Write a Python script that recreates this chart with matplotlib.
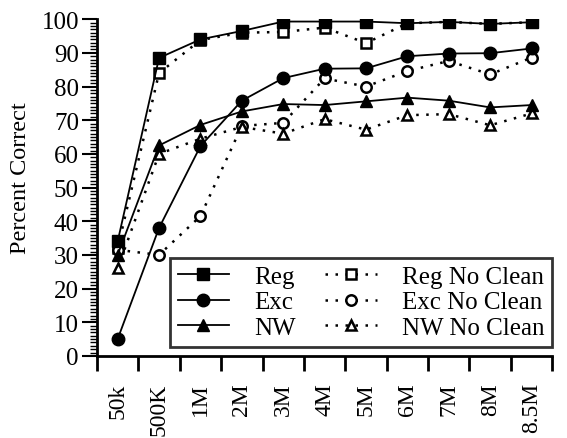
import matplotlib.pyplot as plt
import numpy as np
from matplotlib.ticker import MultipleLocator

plt.rcParams['font.family'] = ['Liberation Serif', 'DejaVu Serif']

sizes = ["50k", "500K", "1M", "2M", "3M", "4M", "5M", "6M", "7M", "8M", "8.5M"]

reg = [34, 88.5, 94, 96.5, 99.3, 99.3, 99.3, 98.8, 99.2, 98.6, 99.1]
exc = [5, 38, 62.3, 75.8, 82.5, 85.3, 85.4, 89, 89.8, 89.9, 91.3]
nw = [30, 62.5, 68.6, 72.6, 74.8, 74.5, 75.6, 76.7, 75.8, 73.8, 74.5]
reg_nc = [32, 84, 93.8, 96, 96.2, 97.5, 92.9, 98.8, 99.2, 98.6, 99.1]
exc_nc = [31.5, 30, 41.5, 68.3, 69.2, 82.4, 80, 84.6, 87.6, 83.6, 88.6]
nw_nc = [26, 60, 64.5, 68, 66, 70.3, 67.2, 71.5, 71.8, 68.5, 72]

x = np.arange(len(sizes))

fig = plt.figure(figsize=(5.67, 4.39), dpi=100)
ax = fig.add_axes([0.171, 0.187, 0.803, 0.767])

solid = dict(color='black', linestyle='-', linewidth=1.3, markersize=9, zorder=4)
dots = dict(color='black', linestyle=(0, (1, 3)), linewidth=1.8, markersize=7.5,
            markerfacecolor='white', markeredgewidth=1.8, zorder=3)

ax.plot(x, reg_nc, marker='s', label='Reg No Clean', **dots)
ax.plot(x, exc_nc, marker='o', label='Exc No Clean', **dots)
ax.plot(x, nw_nc, marker='^', label='NW No Clean', **dots)
ax.plot(x, reg, marker='s', label='Reg', **solid)
ax.plot(x, exc, marker='o', label='Exc', **solid)
ax.plot(x, nw, marker='^', label='NW', **solid)

ax.set_xlim(-0.5, len(sizes) - 0.5)
ax.set_ylim(0, 100)
for s in ['top', 'right']:
    ax.spines[s].set_visible(False)
for s in ['left', 'bottom']:
    ax.spines[s].set_linewidth(2)

ax.set_xticks(x)
ax.set_xticklabels(sizes, rotation=90, fontsize=17)
ax.set_xticks(np.arange(-0.5, len(sizes)), minor=True)
ax.tick_params(axis='x', which='major', length=0, pad=19)
ax.tick_params(axis='x', which='minor', length=11, width=2, direction='out')

ax.yaxis.set_major_locator(MultipleLocator(10))
ax.yaxis.set_minor_locator(MultipleLocator(1))
ax.tick_params(axis='y', which='major', length=11, width=1.5, labelsize=18, pad=2)
ax.tick_params(axis='y', which='minor', length=5, width=1)
ax.set_ylabel('Percent Correct', fontsize=17.5)
ax.yaxis.set_label_coords(-0.145, 0.53)

handles, labels = ax.get_legend_handles_labels()
order = [3, 4, 5, 0, 1, 2]
leg = ax.legend([handles[i] for i in order], [labels[i] for i in order],
                ncol=2, loc='upper left', bbox_to_anchor=(170 / 567, 1 - 259 / 439),
                bbox_transform=fig.transFigure, fontsize=18, frameon=True,
                fancybox=False, edgecolor='black', handlelength=2.05,
                handletextpad=1.0, labelspacing=0.12, columnspacing=1.2,
                borderpad=0.3, borderaxespad=0)
leg.get_frame().set_linewidth(2)
leg.set_zorder(5)

fig.savefig('out.png', dpi=100)
